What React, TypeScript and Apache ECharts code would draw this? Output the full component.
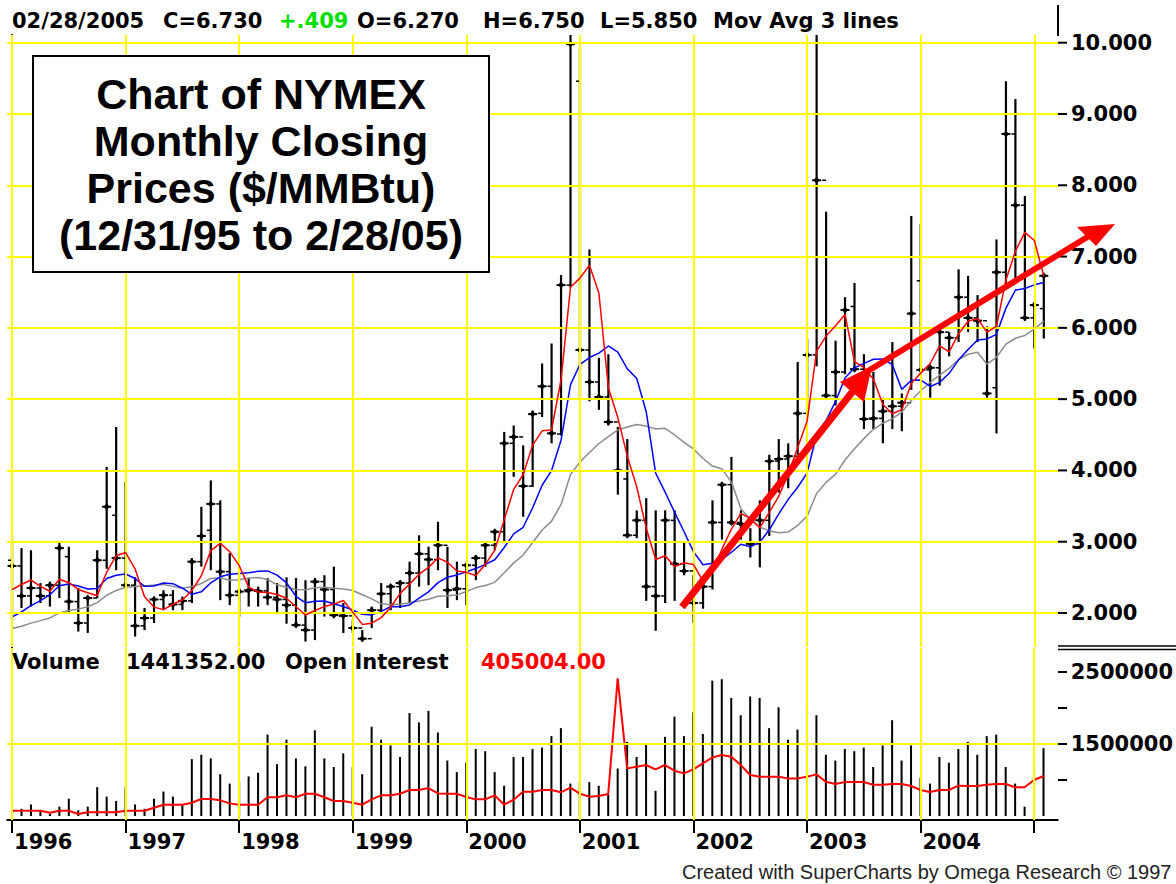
import React, { useEffect, useRef } from "react";
import * as echarts from "echarts";

// Monthly bars Jan 1996 .. Feb 2005 (index 0..109)
const years = ["1996", "1997", "1998", "1999", "2000", "2001", "2002", "2003", "2004"];
const yearStarts = [0, 12, 24, 36, 48, 60, 72, 84, 96, 108];
const yearLabelPos = [0, 12, 24, 36, 48, 60, 72, 84, 96];

const opens = [
  2.74, 2.66, 2.24, 2.35, 2.24, 2.39, 2.79, 2.16, 1.86, 2.21, 2.74, 3.37,
  2.77, 2.39, 1.82, 1.93, 2.19, 2.25, 2.12, 2.17, 2.72, 3.16, 3.53, 2.58,
  2.25, 2.30, 2.32, 2.31, 2.22, 2.19, 2.11, 1.83, 1.76, 2.44, 2.33, 1.97,
  1.96, 1.79, 1.64, 2.04, 2.27, 2.37, 2.42, 2.56, 2.83, 2.75, 2.95, 2.32,
  2.34, 2.67, 2.77, 2.95, 3.14, 4.38, 4.47, 3.78, 4.80, 5.18, 4.51, 6.60,
  9.46, 5.69, 5.24, 5.03, 4.68, 3.88, 3.09, 3.30, 2.37, 2.24, 3.30, 2.69,
  2.59, 2.14, 2.37, 3.27, 3.80, 3.27, 3.25, 2.97, 3.30, 4.13, 4.16, 4.20,
  4.80, 5.62, 8.07, 5.05, 5.38, 6.30, 5.42, 4.72, 4.73, 4.83, 4.90, 4.95,
  6.66, 5.41, 5.44, 5.94, 5.86, 6.43, 6.14, 6.10, 5.16, 6.78, 8.72, 7.72,
  6.14, 6.27,
];
const highs = [
  3.09, 2.91, 2.88, 2.42, 2.44, 3.00, 2.93, 2.35, 2.23, 2.88, 4.05, 4.61,
  3.84, 2.50, 2.07, 2.23, 2.32, 2.32, 2.23, 2.77, 3.49, 3.86, 3.58, 2.84,
  2.35, 2.49, 2.37, 2.49, 2.42, 2.50, 2.49, 2.46, 2.49, 2.53, 2.65, 2.14,
  1.90, 1.76, 2.09, 2.42, 2.39, 2.44, 2.72, 3.09, 2.93, 3.28, 2.93, 2.72,
  2.70, 2.81, 2.98, 3.16, 4.54, 4.63, 4.35, 4.84, 5.50, 5.78, 6.74, 10.60,
  9.93, 7.10, 5.58, 5.63, 4.61, 4.44, 3.44, 3.61, 3.44, 3.44, 3.44, 3.00,
  2.53, 2.47, 3.58, 3.83, 4.19, 3.44, 3.19, 3.58, 4.22, 4.44, 4.38, 5.52,
  5.85, 10.60, 7.63, 5.82, 6.43, 6.63, 5.63, 5.38, 5.02, 5.80, 5.08, 7.57,
  7.46, 5.46, 5.94, 5.94, 6.82, 6.73, 6.46, 6.02, 7.24, 9.46, 9.21, 7.85,
  6.35, 6.75,
];
const lows = [
  1.90, 2.07, 2.09, 2.14, 2.09, 2.21, 2.00, 1.74, 1.72, 2.21, 2.62, 2.60,
  2.37, 1.67, 1.76, 1.86, 2.04, 2.04, 2.04, 2.14, 2.65, 2.60, 2.18, 2.11,
  1.95, 2.09, 2.09, 2.11, 2.00, 1.85, 1.81, 1.60, 1.62, 1.95, 1.95, 1.72,
  1.72, 1.60, 1.79, 2.02, 2.04, 2.07, 2.14, 2.37, 2.39, 2.60, 2.07, 2.18,
  2.11, 2.46, 2.65, 2.88, 2.98, 3.91, 3.35, 3.77, 4.75, 4.38, 4.49, 6.57,
  4.97, 4.97, 4.85, 4.63, 3.66, 3.08, 3.05, 2.17, 1.75, 2.14, 2.17, 2.53,
  1.86, 2.06, 2.33, 3.03, 3.25, 3.03, 2.78, 2.64, 3.08, 3.69, 3.75, 4.22,
  4.80, 5.46, 5.02, 4.91, 5.35, 5.41, 4.58, 4.58, 4.38, 4.58, 4.55, 5.13,
  5.40, 5.02, 5.19, 5.60, 5.80, 5.94, 5.80, 5.02, 4.52, 6.63, 6.68, 6.10,
  5.71, 5.85,
];
const closes = [
  2.66, 2.24, 2.35, 2.24, 2.39, 2.91, 2.16, 1.86, 2.21, 2.74, 3.49, 2.77,
  2.39, 1.82, 1.93, 2.19, 2.25, 2.12, 2.17, 2.72, 3.08, 3.53, 2.58, 2.25,
  2.30, 2.32, 2.31, 2.22, 2.19, 2.11, 1.83, 1.76, 2.44, 2.33, 1.97, 1.96,
  1.79, 1.64, 2.04, 2.27, 2.37, 2.42, 2.56, 2.83, 2.75, 2.95, 2.32, 2.34,
  2.67, 2.77, 2.95, 3.14, 4.38, 4.47, 3.78, 4.79, 5.18, 4.52, 6.60, 9.98,
  5.69, 5.24, 5.03, 4.68, 4.00, 3.09, 3.30, 2.37, 2.24, 3.30, 2.69, 2.59,
  2.14, 2.37, 3.27, 3.80, 3.27, 3.25, 2.97, 3.30, 4.13, 4.16, 4.20, 4.80,
  5.62, 8.07, 5.05, 5.38, 6.25, 5.42, 4.72, 4.73, 4.83, 4.90, 4.95, 6.20,
  5.41, 5.44, 5.94, 5.86, 6.43, 6.14, 6.10, 5.08, 6.78, 8.72, 7.72, 6.14,
  6.32, 6.73,
];
// closes before the visible window (Aug 1994 .. Dec 1995), used only by the moving averages
const priorCloses = [1.70, 1.55, 1.60, 1.72, 1.65, 1.55, 1.50, 1.62, 1.70, 1.62, 1.55, 1.60, 1.65, 1.78, 1.95, 2.10, 2.60];
const maLengths = [4, 9, 18];

const volumes = [
  820000, 600000, 660000, 570000, 530000, 630000, 740000, 580000, 630000, 900000, 770000, 710000,
  900000, 660000, 600000, 740000, 840000, 770000, 650000, 1290000, 1350000, 1300000, 1080000, 950000,
  970000, 1050000, 1100000, 1630000, 1220000, 1560000, 1300000, 1190000, 1690000, 1300000, 1180000, 1370000,
  1180000, 1080000, 1740000, 1560000, 1480000, 1320000, 1930000, 1800000, 1960000, 1660000, 1270000, 1110000,
  1240000, 1430000, 1400000, 1110000, 920000, 1320000, 1320000, 1430000, 1450000, 1610000, 1720000, 950000,
  970000, 970000, 920000, 800000, 1160000, 1530000, 1320000, 1490000, 850000, 1600000, 1880000, 1610000,
  1940000, 1640000, 2380000, 2400000, 2140000, 1900000, 2160000, 2140000, 1720000, 2010000, 1560000, 1700000,
  2010000, 1900000, 1350000, 1270000, 1430000, 1400000, 1450000, 1180000, 1480000, 1830000, 1270000, 1480000,
  1030000, 950000, 1320000, 1240000, 1430000, 1530000, 1350000, 1610000, 1630000, 1180000, 950000, 630000,
  1270000, 1441352,
];
// open interest, thousands of contracts
const openInterest = [
  85, 85, 85, 85, 67, 85, 85, 55, 71, 71, 71, 71,
  85, 85, 85, 113, 141, 141, 141, 159, 193, 193, 181, 153,
  141, 141, 141, 209, 209, 227, 209, 242, 242, 209, 175, 175,
  159, 141, 190, 227, 227, 242, 276, 276, 294, 245, 242, 242,
  212, 190, 190, 227, 141, 187, 260, 260, 276, 276, 255, 298,
  242, 215, 221, 239, 1303, 475, 490, 506, 466, 506, 454, 429,
  466, 521, 575, 598, 582, 506, 414, 398, 398, 398, 383, 383,
  398, 420, 352, 331, 350, 350, 350, 325, 325, 331, 331, 313,
  276, 258, 276, 276, 316, 313, 313, 325, 331, 331, 301, 301,
  368, 405.004,
];

const priceTicks = [2, 3, 4, 5, 6, 7, 8, 9, 10];
const volumeTicks = [1000000, 1500000, 2000000, 2500000];
const volumeLabels = [1500000, 2500000];
const volumeGridLines = [1500000];

const headerTokens = [
  { text: "02/28/2005", x: 12, color: "#000" },
  { text: "C=6.730", x: 163, color: "#000" },
  { text: "+.409", x: 279, color: "#00e000" },
  { text: "O=6.270", x: 357, color: "#000" },
  { text: "H=6.750", x: 483, color: "#000" },
  { text: "L=5.850", x: 600, color: "#000" },
  { text: "Mov Avg 3 lines", x: 713, color: "#000" },
];
const volumeTokens = [
  { text: "Volume", x: 12, color: "#000" },
  { text: "1441352.00", x: 126, color: "#000" },
  { text: "Open Interest", x: 285, color: "#000" },
  { text: "405004.00", x: 481, color: "#ff0000" },
];

function sma(n: number): number[][] {
  const all = priorCloses.concat(closes);
  const off = priorCloses.length;
  return closes.map((_, i) => {
    let s = 0;
    for (let k = off + i - n + 1; k <= off + i; k++) s += all[k];
    return [i, +(s / n).toFixed(4)];
  });
}

const BOLD = '"DejaVu Sans", sans-serif';

export default function App() {
  const ref = useRef<HTMLDivElement>(null);
  useEffect(() => {
    if (!ref.current) return;
    const chart = echarts.init(ref.current, null, { renderer: "svg" });
    const gridLeft = 7.3;
    const gridWidth = 1050.7;
    const yellow = { color: "#ffff00", width: 2, type: "solid" as const };
    const axisText = { color: "#000", fontFamily: BOLD, fontWeight: "bold" as const, fontSize: 21 };

    const textEl = (t: { text: string; x: number; color: string }, y: number) => ({
      type: "text",
      x: t.x,
      y,
      z: 50,
      style: { text: t.text, fill: t.color, fontFamily: BOLD, fontWeight: "bold", fontSize: 21, align: "left", verticalAlign: "middle" },
    });

    const graphic: any[] = [
      ...headerTokens.map((t) => textEl(t, 21)),
      ...volumeTokens.map((t) => textEl(t, 662)),
      { type: "line", z: 50, shape: { x1: 1058, y1: 5, x2: 1058, y2: 36 }, style: { stroke: "#000", lineWidth: 2 } },
      { type: "line", z: 50, shape: { x1: 1058, y1: 646, x2: 1176, y2: 646 }, style: { stroke: "#000", lineWidth: 1.5 } },
      { type: "line", z: 50, shape: { x1: 1058, y1: 649.5, x2: 1176, y2: 649.5 }, style: { stroke: "#000", lineWidth: 1.5 } },
      {
        type: "rect", z: 60, shape: { x: 33, y: 56, width: 456, height: 216 },
        style: { fill: "#fff", stroke: "#000", lineWidth: 2 },
      },
      {
        type: "text", z: 61, x: 261, y: 164,
        style: {
          text: "Chart of NYMEX\nMonthly Closing\nPrices ($/MMBtu)\n(12/31/95 to 2/28/05)",
          fill: "#000", fontFamily: '"Liberation Sans", Arial, sans-serif', fontWeight: "bold", fontSize: 43,
          lineHeight: 47, align: "center", verticalAlign: "middle",
        },
      },
      {
        type: "text", z: 50, x: 682, y: 872,
        style: {
          text: "Created with SuperCharts by Omega Research \u00a9 1997",
          fill: "#222", fontFamily: '"Liberation Sans", Arial, sans-serif', fontSize: 20, align: "left", verticalAlign: "middle",
        },
      },
      // red arrows
      { type: "polyline", z: 70, shape: { points: [[682, 607], [853, 391]] }, style: { stroke: "#ff0000", lineWidth: 7 } },
      { type: "polygon", z: 70, shape: { points: [[872, 366], [840, 382], [864, 402]] }, style: { fill: "#ff0000" } },
      { type: "polyline", z: 70, shape: { points: [[868, 371], [1089, 236]] }, style: { stroke: "#ff0000", lineWidth: 6 } },
      { type: "polygon", z: 70, shape: { points: [[1115, 224], [1077, 227], [1096, 246]] }, style: { fill: "#ff0000" } },
    ];

    const option: any = {
      animation: false,
      backgroundColor: "#ffffff",
      grid: [
        { left: gridLeft, top: 35, width: gridWidth, height: 612 },
        { left: gridLeft, top: 648, width: gridWidth, height: 172 },
      ],
      xAxis: [
        {
          gridIndex: 0, type: "value", min: -0.5, max: 110.5,
          axisLine: { show: false }, axisTick: { show: false }, axisLabel: { show: false }, splitLine: { show: false },
        },
        {
          gridIndex: 1, type: "value", min: -0.5, max: 110.5,
          axisLine: { show: true, onZero: false, lineStyle: { color: "#000", width: 2 } },
          axisTick: { show: true, customValues: yearStarts, length: 13, lineStyle: { color: "#000", width: 2 } },
          axisLabel: {
            show: true, customValues: yearLabelPos, align: "left", margin: 11, padding: [0, 0, 0, 2],
            formatter: (v: number) => years[Math.round(v / 12)] ?? "", ...axisText,
          },
          splitLine: { show: false },
        },
      ],
      yAxis: [
        {
          gridIndex: 0, type: "value", position: "right", min: 1.523, max: 10.108,
          axisLine: { show: true, lineStyle: { color: "#000", width: 2 } },
          axisTick: { show: false },
          axisLabel: { show: true, customValues: priceTicks, margin: 13, formatter: (v: number) => v.toFixed(3), ...axisText },
          splitLine: { show: false },
        },
        {
          gridIndex: 1, type: "value", position: "right", min: 444444, max: 2833333,
          axisLine: { show: true, lineStyle: { color: "#000", width: 2 } },
          axisTick: { show: false },
          axisLabel: { show: true, customValues: volumeLabels, margin: 13, formatter: (v: number) => String(v), ...axisText },
          splitLine: { show: false },
        },
        { gridIndex: 1, type: "value", show: false, min: 0, max: 1583 },
      ],
      series: [
        {
          type: "line", xAxisIndex: 0, yAxisIndex: 0, data: [], z: 1, silent: true,
          markLine: {
            silent: true, symbol: ["none", "none"], label: { show: false }, lineStyle: yellow, animation: false,
            data: [...yearStarts.map((v) => ({ xAxis: v })), ...priceTicks.map((v) => ({ yAxis: v }))],
          },
        },
        {
          type: "line", xAxisIndex: 1, yAxisIndex: 1, data: [], z: 1, silent: true,
          markLine: {
            silent: true, symbol: ["none", "none"], label: { show: false }, lineStyle: yellow, animation: false,
            data: [...yearStarts.map((v) => ({ xAxis: v })), ...volumeGridLines.map((v) => ({ yAxis: v }))],
          },
        },
        {
          type: "custom", name: "OHLC", xAxisIndex: 0, yAxisIndex: 0, clip: true, z: 3,
          data: closes.map((c, i) => [i, opens[i], highs[i], lows[i], c]),
          encode: { x: 0, y: [1, 2, 3, 4] },
          renderItem: (params: any, api: any) => {
            const x = api.value(0);
            const o = api.coord([x, api.value(1)]);
            const h = api.coord([x, api.value(2)]);
            const l = api.coord([x, api.value(3)]);
            const c = api.coord([x, api.value(4)]);
            const cx = h[0];
            return {
              type: "group",
              children: [
                { type: "line", shape: { x1: cx, y1: h[1], x2: cx, y2: l[1] }, style: { stroke: "#000", lineWidth: 2.2 } },
                { type: "line", shape: { x1: cx - 4, y1: o[1], x2: cx, y2: o[1] }, style: { stroke: "#000", lineWidth: 1.5 } },
                { type: "line", shape: { x1: cx - 4.5, y1: c[1], x2: cx + 4.5, y2: c[1] }, style: { stroke: "#000", lineWidth: 2 } },
                {
                  type: "polygon",
                  shape: { points: [[cx, c[1] - 3.5], [cx + 3, c[1]], [cx, c[1] + 3.5], [cx - 3, c[1]]] },
                  style: { fill: "#000" },
                },
              ],
            };
          },
        },
        {
          type: "line", name: "MA18", xAxisIndex: 0, yAxisIndex: 0, data: sma(maLengths[2]), showSymbol: false, z: 4,
          lineStyle: { color: "#8c8c8c", width: 1.5 }, clip: true,
        },
        {
          type: "line", name: "MA9", xAxisIndex: 0, yAxisIndex: 0, data: sma(maLengths[1]), showSymbol: false, z: 4,
          lineStyle: { color: "#0000ff", width: 1.5 }, clip: true,
        },
        {
          type: "line", name: "MA4", xAxisIndex: 0, yAxisIndex: 0, data: sma(maLengths[0]), showSymbol: false, z: 5,
          lineStyle: { color: "#ff0000", width: 1.5 }, clip: true,
        },
        {
          type: "custom", name: "Volume", xAxisIndex: 1, yAxisIndex: 1, z: 3, clip: true,
          data: volumes.map((v, i) => [i, v]),
          encode: { x: 0, y: 1 },
          renderItem: (params: any, api: any) => {
            const x = api.value(0);
            const top = api.coord([x, api.value(1)]);
            const base = api.coord([x, 500000]);
            return { type: "line", shape: { x1: top[0], y1: top[1], x2: base[0], y2: base[1] }, style: { stroke: "#000", lineWidth: 2 } };
          },
        },
        {
          type: "line", name: "Open Interest", xAxisIndex: 1, yAxisIndex: 2, z: 4, showSymbol: false,
          data: openInterest.map((v, i) => [i, v]),
          lineStyle: { color: "#ff0000", width: 2 },
        },
      ],
      graphic,
    };
    chart.setOption(option);

    // right-axis tick marks, placed through the axes' own scales
    const axisX = chart.convertToPixel({ xAxisIndex: 0 }, 110.5) as number;
    const tickEls: any[] = [];
    priceTicks.forEach((v) => {
      const y = chart.convertToPixel({ yAxisIndex: 0 }, v) as number;
      tickEls.push({ type: "line", z: 50, shape: { x1: axisX, y1: y, x2: axisX + 9, y2: y }, style: { stroke: "#000", lineWidth: 2 } });
    });
    volumeTicks.forEach((v) => {
      const y = chart.convertToPixel({ yAxisIndex: 1 }, v) as number;
      tickEls.push({ type: "line", z: 50, shape: { x1: axisX, y1: y, x2: axisX + 9, y2: y }, style: { stroke: "#000", lineWidth: 2 } });
    });
    chart.setOption({ graphic: [...graphic, ...tickEls] });

    return () => chart.dispose();
  }, []);
  return (
    <div
      ref={ref}
      style={{ position: "absolute", left: 0, top: 0, width: 1176, height: 884, background: "#fff" }}
    />
  );
}
